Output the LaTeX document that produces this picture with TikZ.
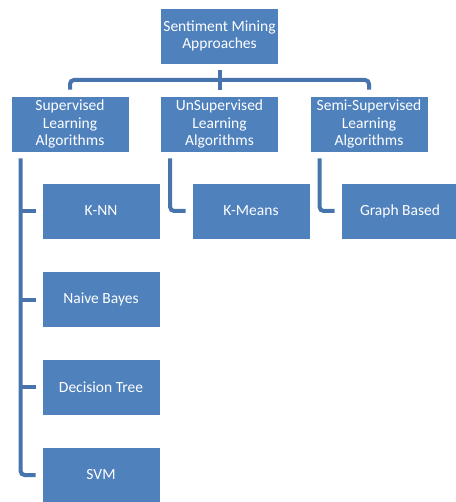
\documentclass[tikz,border=0pt]{standalone}
\usepackage{fontspec}
\setmainfont{Carlito}
\definecolor{boxblue}{HTML}{4F81BD}
\definecolor{lineblue}{HTML}{4874AD}
\begin{document}
\begin{tikzpicture}[x=1pt,y=-1pt,
  box/.style={rectangle, fill=boxblue, draw=white, line width=0.8pt, minimum width=118pt, minimum height=56pt, inner sep=2pt, align=center, text=white, font=\fontsize{15.5}{17.5}\selectfont},
  conn/.style={draw=lineblue, line width=4pt, rounded corners=4pt, shorten <=6pt, shorten >=6pt}]
\useasboundingbox (0,0) rectangle (455,502);
\node[box] (top) at (219.5,36) {Sentiment Mining\\Approaches};
\node[box] (sup) at (70,124) {Supervised\\Learning\\Algorithms};
\node[box] (uns) at (219.5,124) {UnSupervised\\Learning\\Algorithms};
\node[box] (semi) at (369,124) {Semi-Supervised\\Learning\\Algorithms};
\node[box] (knn) at (101,211) {K-NN};
\node[box] (kmeans) at (251,211) {K-Means};
\node[box] (graph) at (400,211) {Graph Based};
\node[box] (nb) at (101,299.5) {Naive Bayes};
\node[box] (dt) at (101,387) {Decision Tree};
\node[box] (svm) at (101,475) {SVM};
\coordinate (bar) at (219.5,80);
\coordinate (supx) at ([xshift=10pt]sup.south west);
\coordinate (unsx) at ([xshift=10pt]uns.south west);
\coordinate (semix) at ([xshift=10pt]semi.south west);
% top tree
\draw[conn] (top.south) -- (uns.north);
\draw[conn] (sup.north) |- (bar) -| (semi.north);
% supervised children
\draw[conn] (supx) |- (svm.west);
\draw[conn, shorten <=0pt] (supx |- knn.west) -- (knn.west);
\draw[conn, shorten <=0pt] (supx |- nb.west) -- (nb.west);
\draw[conn, shorten <=0pt] (supx |- dt.west) -- (dt.west);
% other children
\draw[conn] (unsx) |- (kmeans.west);
\draw[conn] (semix) |- (graph.west);
\end{tikzpicture}
\end{document}
